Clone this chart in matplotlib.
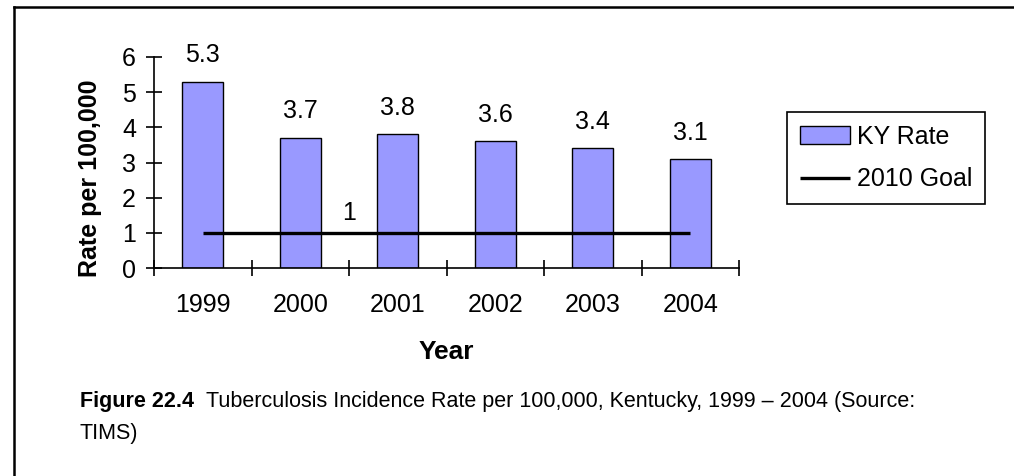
import matplotlib
matplotlib.use("Agg")
import matplotlib.pyplot as plt
from matplotlib.lines import Line2D
import numpy as np

plt.rcParams['font.family'] = ['Liberation Sans', 'DejaVu Sans']

years = ['1999', '2000', '2001', '2002', '2003', '2004']
ky_rate = [5.3, 3.7, 3.8, 3.6, 3.4, 3.1]
goal_2010 = [1, 1, 1, 1, 1, 1]

W, H = 1014, 476
fig = plt.figure(figsize=(W / 100, H / 100), dpi=100)


def fx(px):
    return px / W


def fy(py):
    return 1 - py / H


ax = fig.add_axes([fx(154), fy(268), fx(739) - fx(154), fy(57) - fy(268)])

x = np.arange(len(years))
bars = ax.bar(x, ky_rate, width=0.42, color='#9999ff', edgecolor='black',
              linewidth=1.0, label='KY Rate', zorder=2)
goal_line, = ax.plot(x, goal_2010, color='black', linewidth=2.4,
                     label='2010 Goal', solid_capstyle='butt', zorder=3)

for xi, v in zip(x, ky_rate):
    ax.annotate(f'{v:g}', (xi, v), xytext=(0, 14), textcoords='offset points',
                ha='center', va='baseline', fontsize=18)
ax.annotate(f'{goal_2010[1]:g}', (1.5, goal_2010[1]), xytext=(0, 9),
            textcoords='offset points', ha='center', va='baseline', fontsize=18)

ax.set_xlim(-0.5, len(years) - 0.5)
ax.set_ylim(0, 6)
ax.set_yticks(range(0, 7))
ax.set_xticks(x)
ax.set_xticklabels(years)
ax.set_xticks(np.arange(-0.5, len(years)), minor=True)

for side in ('top', 'right'):
    ax.spines[side].set_visible(False)
for side in ('left', 'bottom'):
    ax.spines[side].set_linewidth(1.2)
    ax.spines[side].set_zorder(4)

ax.tick_params(axis='y', direction='inout', length=12, width=1.2,
               labelsize=18, pad=7)
ax.tick_params(axis='x', which='major', length=0, labelsize=18, pad=18)
ax.tick_params(axis='x', which='minor', direction='inout', length=12,
               width=1.2)

ax.set_ylabel('Rate per 100,000', fontsize=18, fontweight='bold', va='center')
ax.yaxis.set_label_coords(-0.109, 0.424)
ax.set_xlabel('Year', fontsize=19, fontweight='bold', va='center')
ax.xaxis.set_label_coords(0.5, -0.398)

leg = ax.legend([bars, goal_line], ['KY Rate', '2010 Goal'],
                loc='upper left', bbox_to_anchor=(fx(787), fy(112)),
                bbox_transform=fig.transFigure, borderaxespad=0,
                fontsize=18, frameon=True, fancybox=False, edgecolor='black',
                framealpha=1, handlelength=2.0, handletextpad=0.3,
                labelspacing=0.75, borderpad=0.5)
leg.get_frame().set_linewidth(1.2)

# page border (top and left edges only)
fig.add_artist(Line2D([fx(14), 1], [fy(7), fy(7)], color='black', lw=1.8))
fig.add_artist(Line2D([fx(14), fx(14)], [fy(7), 0], color='black', lw=1.8))

fig.text(fx(80), fy(402), 'Figure 22.4', fontsize=15.5, fontweight='bold',
         va='center', ha='left')
fig.text(fx(206), fy(402),
         'Tuberculosis Incidence Rate per 100,000, Kentucky, 1999 \u2013 2004 (Source:',
         fontsize=15.5, va='center', ha='left')
fig.text(fx(80), fy(433), 'TIMS)', fontsize=15.5, va='center', ha='left')

fig.savefig('out.png', dpi=100)
